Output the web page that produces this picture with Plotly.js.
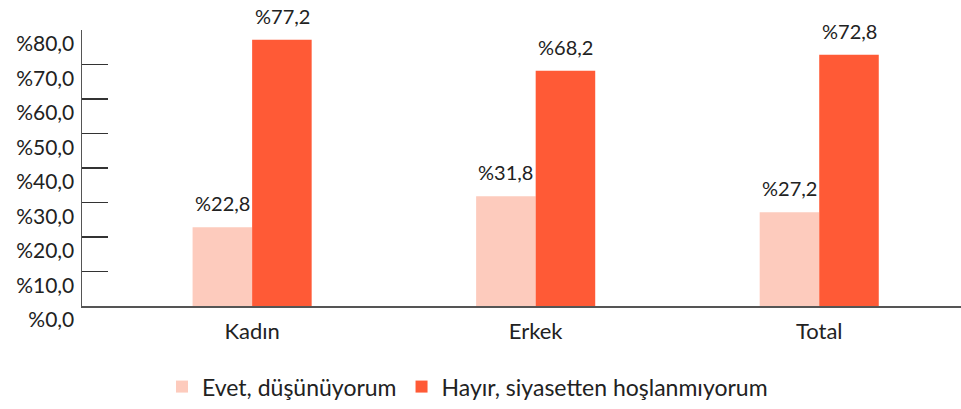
<!DOCTYPE html>
<html>
<head>
<meta charset="utf-8">
<script src="https://cdn.plot.ly/plotly-3.0.1.min.js"></script>
<style>html,body{margin:0;padding:0;background:#fff;}#chart{width:961px;height:409px;}</style>
</head>
<body>
<div id="chart"></div>
<script>
const categories = ['Kadın', 'Erkek', 'Total'];
const seriesNames = ['Evet, düşünüyorum', 'Hayır, siyasetten hoşlanmıyorum'];
const evet = [22.8, 31.8, 27.2];
const hayir = [77.2, 68.2, 72.8];
const yTicks = [0, 10, 20, 30, 40, 50, 60, 70, 80];

const colors = ['#FDCBBD', '#FF5A36'];
const fontFam = 'Lato, "Open Sans", sans-serif';
const fmt = v => '%' + v.toFixed(1).replace('.', ',');

const traces = [evet, hayir].map((vals, i) => ({
  type: 'bar', name: seriesNames[i], x: categories, y: vals,
  marker: {color: colors[i]}, hoverinfo: 'none'
}));

const annotations = [];
[evet, hayir].forEach((vals, i) => {
  vals.forEach((v, j) => {
    annotations.push({
      x: categories[j], y: v, xref: 'x', yref: 'y', text: fmt(v), showarrow: false,
      xshift: i === 0 ? -30 : 30, yshift: 10, yanchor: 'bottom',
      font: {family: fontFam, size: 20, color: '#222'}
    });
  });
});

const layout = {
  width: 961, height: 409,
  margin: {l: 82, r: 0, t: 30, b: 103, autoexpand: false},
  paper_bgcolor: '#fff', plot_bgcolor: '#fff',
  barmode: 'group', bargap: 0.58, bargroupgap: 0,
  separators: ',.',
  font: {family: fontFam, size: 20, color: '#222'},
  showlegend: true,
  legend: {orientation: 'h', x: 0.091, xanchor: 'left', y: -0.37, yanchor: 'bottom',
    font: {family: fontFam, size: 23, color: '#222'}, itemwidth: 30, traceorder: 'normal'},
  xaxis: {range: [-0.6, 2.5], showline: true, linecolor: '#555', linewidth: 1.5,
    ticks: '', showgrid: false, zeroline: false, fixedrange: true, ticklabelstandoff: 5,
    tickfont: {family: fontFam, size: 22, color: '#222'}},
  yaxis: {range: [0, 80], showline: true, linecolor: '#555', linewidth: 1.5,
    ticks: 'inside', ticklen: 26, tickcolor: '#333', tickwidth: 1.5,
    tickvals: yTicks, ticktext: yTicks.map(fmt), ticklabelshift: 14, ticklabelstandoff: 2,
    showgrid: false, zeroline: false, fixedrange: true,
    tickfont: {family: fontFam, size: 21, color: '#222'}},
  annotations: annotations
};

Plotly.newPlot('chart', traces, layout, {displayModeBar: false, staticPlot: true});
</script>
</body>
</html>
